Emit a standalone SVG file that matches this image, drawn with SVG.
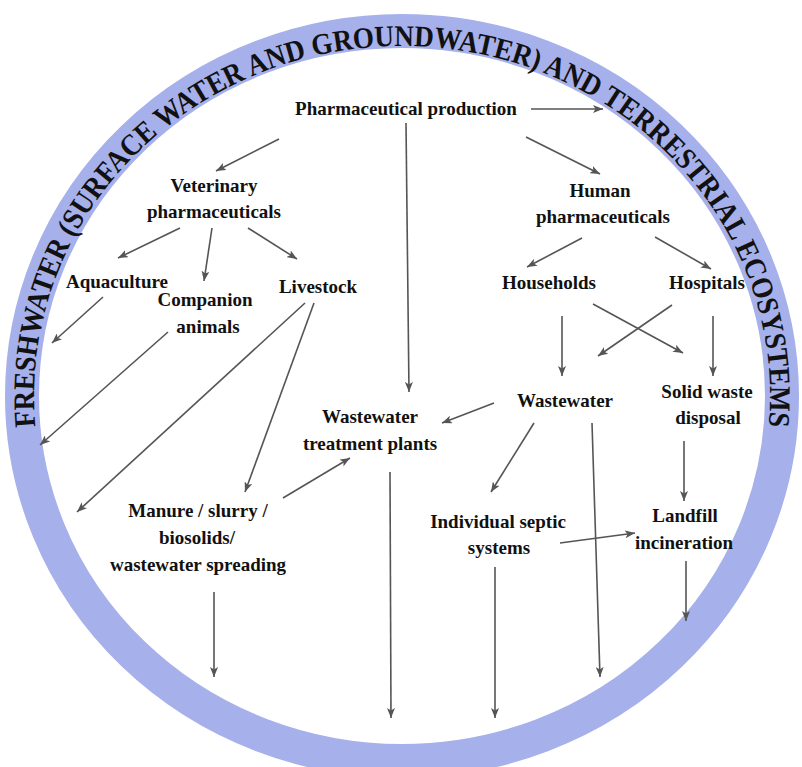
<svg xmlns="http://www.w3.org/2000/svg" width="802" height="767" viewBox="0 0 802 767">
<style>
.lbl{font-family:"Liberation Serif","Times New Roman",serif;font-weight:bold;font-size:19px;fill:#111;text-anchor:middle}
.ring{fill:none;stroke:#a6b0ea;stroke-width:34}
.ringtxt{font-family:"Liberation Serif","Times New Roman",serif;font-weight:bold;font-size:30px;fill:#111}
.c line{stroke:#555;stroke-width:1.6;marker-end:url(#ah)}
</style>
<defs>
<marker id="ah" markerUnits="userSpaceOnUse" markerWidth="10" markerHeight="8" refX="10" refY="4" orient="auto">
<path d="M0,0 L10,4 L0,8 L2.5,4 z" fill="#555"/>
</marker>
<path id="ringpath" d="M 39.6 456.8 A 368 350 0 0 1 402 46 A 368 350 0 0 1 764.4 456.8"/>
</defs>
<rect width="802" height="767" fill="#fff"/>
<g id="ring">
<ellipse class="ring" cx="402" cy="396" rx="380" ry="365"/>
<text class="ringtxt" textLength="1189" lengthAdjust="spacingAndGlyphs"><textPath href="#ringpath" startOffset="50%" text-anchor="middle">FRESHWATER (SURFACE WATER AND GROUNDWATER) AND TERRESTRIAL ECOSYSTEMS</textPath></text>
</g>
<g id="pharma-production"><text class="lbl" x="406" y="115">Pharmaceutical production</text></g>
<g id="veterinary"><text class="lbl" x="214" y="192">Veterinary</text><text class="lbl" x="214" y="218">pharmaceuticals</text></g>
<g id="human"><text class="lbl" x="600" y="197">Human</text><text class="lbl" x="603" y="223">pharmaceuticals</text></g>
<g id="aquaculture"><text class="lbl" x="117" y="288">Aquaculture</text></g>
<g id="companion"><text class="lbl" x="205" y="306">Companion</text><text class="lbl" x="208" y="333">animals</text></g>
<g id="livestock"><text class="lbl" x="318" y="293">Livestock</text></g>
<g id="households"><text class="lbl" x="549" y="289">Households</text></g>
<g id="hospitals"><text class="lbl" x="707" y="289">Hospitals</text></g>
<g id="wastewater"><text class="lbl" x="565" y="407">Wastewater</text></g>
<g id="solid-waste"><text class="lbl" x="707" y="398">Solid waste</text><text class="lbl" x="708" y="424">disposal</text></g>
<g id="wwtp"><text class="lbl" x="370" y="423">Wastewater</text><text class="lbl" x="370" y="450">treatment plants</text></g>
<g id="manure"><text class="lbl" x="198" y="517">Manure / slurry /</text><text class="lbl" x="197" y="544">biosolids/</text><text class="lbl" x="198" y="571">wastewater spreading</text></g>
<g id="septic"><text class="lbl" x="498" y="528">Individual septic</text><text class="lbl" x="499" y="554">systems</text></g>
<g id="landfill"><text class="lbl" x="685" y="522">Landfill</text><text class="lbl" x="684" y="549">incineration</text></g>
<g id="connectors" class="c">
<line x1="531" y1="109" x2="603" y2="109"/>
<line x1="279" y1="139" x2="216" y2="171"/>
<line x1="526" y1="137" x2="600" y2="174"/>
<line x1="406" y1="123" x2="409" y2="392"/>
<line x1="180" y1="228" x2="118" y2="258"/>
<line x1="212" y1="228" x2="204" y2="281"/>
<line x1="248" y1="228" x2="297" y2="259"/>
<line x1="582" y1="238" x2="527" y2="267"/>
<line x1="655" y1="237" x2="711" y2="269"/>
<line x1="103" y1="297" x2="52" y2="343"/>
<line x1="168" y1="332" x2="40" y2="445"/>
<line x1="305" y1="303" x2="77" y2="512"/>
<line x1="314" y1="303" x2="245" y2="492"/>
<line x1="283" y1="498" x2="350" y2="458"/>
<line x1="562" y1="316" x2="562" y2="376"/>
<line x1="593" y1="304" x2="683" y2="353"/>
<line x1="672" y1="305" x2="598" y2="356"/>
<line x1="713" y1="316" x2="713" y2="376"/>
<line x1="494" y1="403" x2="442" y2="423"/>
<line x1="534" y1="423" x2="491" y2="492"/>
<line x1="592" y1="423" x2="600" y2="677"/>
<line x1="684" y1="441" x2="684" y2="501"/>
<line x1="214" y1="592" x2="214" y2="677"/>
<line x1="390" y1="472" x2="391" y2="718"/>
<line x1="495" y1="567" x2="495" y2="718"/>
<line x1="560" y1="543" x2="635" y2="533"/>
<line x1="686" y1="561" x2="686" y2="621"/>
</g>
</svg>
